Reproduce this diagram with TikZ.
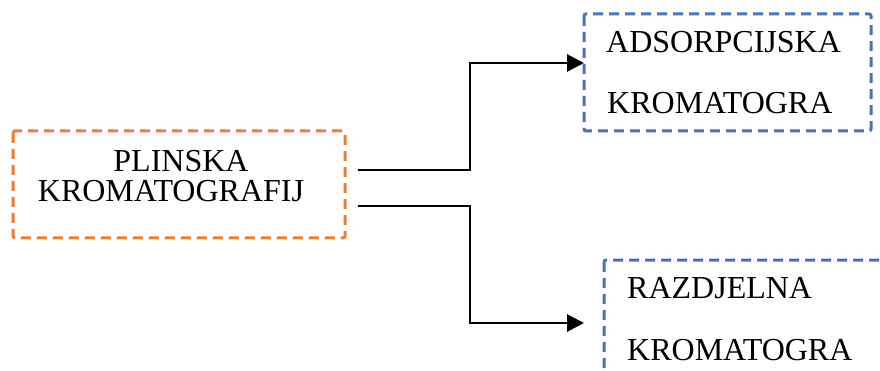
\documentclass[tikz,border=0pt]{standalone}
\usepackage{fontspec}
\setmainfont{Liberation Serif}
\usetikzlibrary{arrows.meta}
\definecolor{boxorange}{HTML}{ED7D31}
\definecolor{boxblue}{HTML}{4472C4}
\tikzset{
  dbox/.style={draw, line width=3pt, dash pattern=on 10pt off 6pt, rounded corners=2pt, inner sep=0pt},
  obox/.style={dbox, draw=boxorange},
  bbox/.style={dbox, draw=boxblue},
  txt/.style={inner sep=0pt, font=\fontsize{32}{34}\selectfont},
  conn/.style={line width=2.8pt, -{Triangle[length=17pt,width=17pt]}}
}
\begin{document}
\begin{tikzpicture}[x=1pt,y=-1pt]
\useasboundingbox (0,0) rectangle (880,371);
\clip (0,0) rectangle (880,371);
% boxes
\draw[obox] (13,131) rectangle (345,238);
\node[inner sep=0pt, minimum width=332pt, minimum height=107pt] (gc) at (179,184.5) {};
\draw[bbox] (584,14) rectangle (871,131);
\node[inner sep=0pt, minimum width=287pt, minimum height=117pt] (ads) at (727.5,72.5) {};
\draw[bbox] (604,260) rectangle (900,400);
\node[inner sep=0pt, minimum width=296pt, minimum height=140pt] (raz) at (752,330) {};
% texts
\node[txt, anchor=base] (t1) at (181,172) {PLINSKA};
\node[txt, anchor=base] (t2) at (171,201.5) {KROMATOGRAFIJ};
\node[txt, anchor=base west] (t3) at (606,53) {ADSORPCIJSKA};
\node[txt, anchor=base west] (t4) at (607,114) {KROMATOGRA};
\node[txt, anchor=base west] (t5) at (627,298) {RAZDJELNA};
\node[txt, anchor=base west] (t6) at (627,360) {KROMATOGRA};
% connector ends
\coordinate (s1) at (358,170);
\coordinate (s2) at (358,206);
\coordinate (e1) at (584,63);
\coordinate (e2) at (584,323);
\draw[conn] (s1) -- (470,170) |- (e1);
\draw[conn] (s2) -- (470,206) |- (e2);
\end{tikzpicture}
\end{document}
